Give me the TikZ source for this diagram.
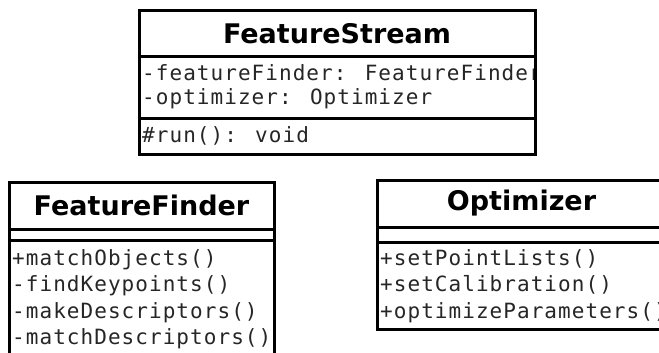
\documentclass[tikz,border=0pt]{standalone}
\usepackage{fontspec}
\newfontfamily\umlhead{DejaVu Sans}
\newfontfamily\umlmono[LetterSpace=5]{DejaVu Sans Mono}
\begin{document}
\begin{tikzpicture}[x=1pt,y=-1pt,
  frame/.style={draw=black,line width=3pt},
  rule/.style={draw=black,line width=3pt},
  head/.style={font=\umlhead\fontsize{27}{32}\selectfont\bfseries,inner sep=0pt,anchor=center,text=black},
  member/.style={font=\umlmono\fontsize{21}{26}\selectfont,inner sep=0pt,anchor=base west,text=black!85}
]
\path[use as bounding box] (0,0) rectangle (659,353);
\clip (0,0) rectangle (659,353);
\fill[white] (0,0) rectangle (659,353);

% class FeatureStream
\begin{scope}
  \clip (139,11) rectangle (535,154);
  \node[head] (fsName) at (337,34) {FeatureStream};
  \node[member] (fsAttrA) at (142,81) {-featureFinder: FeatureFinder};
  \node[member] (fsAttrB) at (142,104) {-optimizer: Optimizer};
  \node[member] (fsOpA) at (142,142.5) {\#run(): void};
\end{scope}
\draw[frame] (139,11) rectangle (535,154);
\draw[rule] (139,57) -- (535,57);
\draw[rule] (139,118) -- (535,118);

% class FeatureFinder
\begin{scope}
  \clip (9,182) rectangle (274,370);
  \node[head] (ffName) at (141.5,205) {FeatureFinder};
  \node[member] (ffOpA) at (12,265) {+matchObjects()};
  \node[member] (ffOpB) at (12,291.5) {-findKeypoints()};
  \node[member] (ffOpC) at (12,318) {-makeDescriptors()};
  \node[member] (ffOpD) at (12,344.5) {-matchDescriptors()};
\end{scope}
\draw[frame] (9,182) rectangle (274,370);
\draw[rule] (9,229) -- (274,229);
\draw[rule] (9,240) -- (274,240);

% class Optimizer
\begin{scope}
  \clip (377,180) rectangle (666,329);
  \node[head] (opName) at (521.5,203) {Optimizer};
  \node[member] (opOpA) at (380,265) {+setPointLists()};
  \node[member] (opOpB) at (380,291.5) {+setCalibration()};
  \node[member] (opOpC) at (380,318) {+optimizeParameters()};
\end{scope}
\draw[frame] (377,180) rectangle (666,329);
\draw[rule] (377,227) -- (666,227);
\draw[rule] (377,242) -- (666,242);
\end{tikzpicture}
\end{document}
